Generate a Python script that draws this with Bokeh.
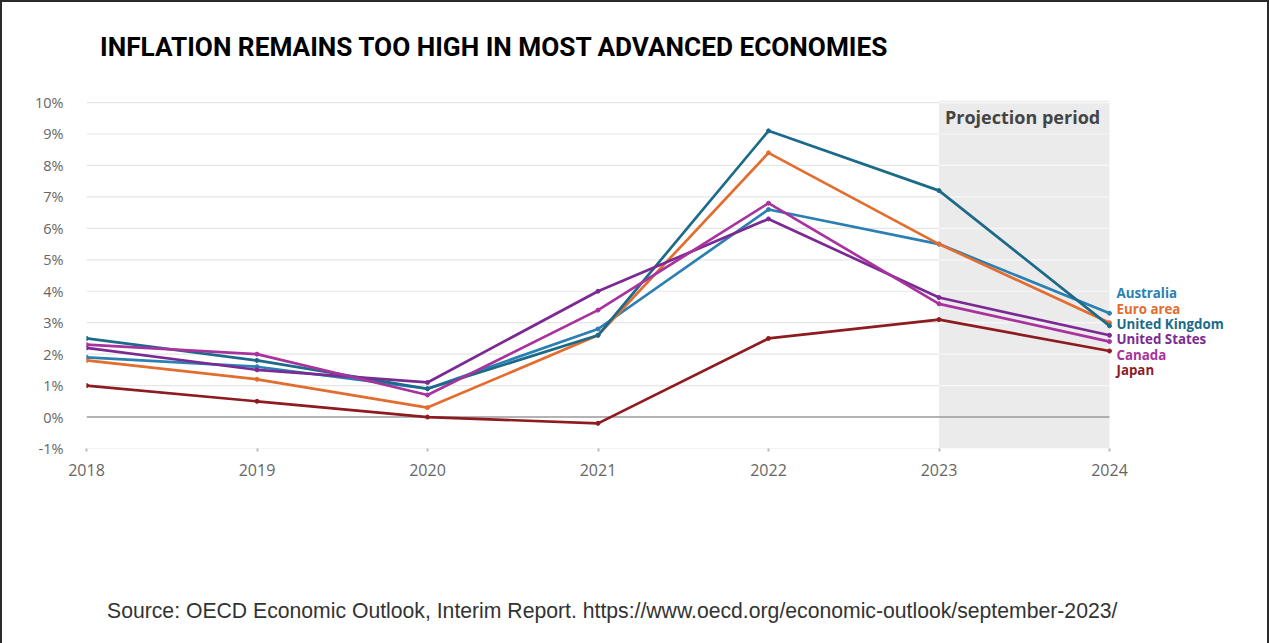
import numpy as np
from bokeh.plotting import figure
from bokeh.layouts import column
from bokeh.models import (FixedTicker, PrintfTickFormatter, BoxAnnotation, Label,
                          ColumnDataSource, Range1d, Div)
from bokeh.core.properties import value
from bokeh.embed import file_html
from bokeh.resources import INLINE

# ---------------- data ----------------
years = [2018, 2019, 2020, 2021, 2022, 2023, 2024]
australia = [1.9, 1.6, 0.9, 2.8, 6.6, 5.5, 3.3]
euro_area = [1.8, 1.2, 0.3, 2.6, 8.4, 5.5, 3.0]
united_kingdom = [2.5, 1.8, 0.9, 2.6, 9.1, 7.2, 2.9]
united_states = [2.2, 1.5, 1.1, 4.0, 6.3, 3.8, 2.6]
canada = [2.3, 2.0, 0.7, 3.4, 6.8, 3.6, 2.4]
japan = [1.0, 0.5, 0.0, -0.2, 2.5, 3.1, 2.1]

series_names = ["Australia", "Euro area", "United Kingdom", "United States", "Canada", "Japan"]
series_values = [australia, euro_area, united_kingdom, united_states, canada, japan]
series_colors = ["#2b80b3", "#e36c2f", "#1c6a89", "#7b2a93", "#a8329e", "#8e1b1f"]

y_ticks = [-1, 0, 1, 2, 3, 4, 5, 6, 7, 8, 9, 10]
projection_start, projection_end = 2023, 2024

title_text = "INFLATION REMAINS TOO HIGH IN MOST ADVANCED ECONOMIES"
source_text = "Source: OECD Economic Outlook, Interim Report. https://www.oecd.org/economic-outlook/september-2023/"

# ---------------- geometry ----------------
W, H = 1269, 643
BORDER = 2
inner_w = W - 2 * BORDER
title_h = 88
fig_top_pad, frame_h, fig_bottom_pad = 10, 348, 50
fig_h = fig_top_pad + frame_h + fig_bottom_pad
source_h = H - BORDER - title_h - fig_h
frame_left, frame_right = 86, 1250          # absolute page x
x0 = 2018
ppx = (1109 - 86) / 6
x1 = 2024 + (frame_right - 1109) / ppx
y0, y1 = -1, 10.065
ppy = frame_h / (y1 - y0)

title_div = Div(text=f'<div style="padding-left:{100 - BORDER}px;padding-top:{47 - BORDER - 15}px;'
                     f'font-family:Roboto,sans-serif;font-weight:700;font-size:26.2px;'
                     f'line-height:30px;color:#000;white-space:nowrap;">{title_text}</div>',
                width=inner_w, height=title_h, margin=0)

p = figure(width=inner_w, height=fig_h, output_backend="svg", toolbar_location=None,
           x_range=Range1d(x0, x1), y_range=Range1d(y0, y1),
           min_border_left=frame_left - BORDER, min_border_top=fig_top_pad,
           min_border_right=W - BORDER - frame_right, min_border_bottom=fig_bottom_pad,
           background_fill_color="white", border_fill_color="white", margin=0)
p.outline_line_color = None
p.xgrid.grid_line_color = None
p.ygrid.grid_line_color = None

# projection band
p.add_layout(BoxAnnotation(left=projection_start, right=projection_end,
                           fill_color="#ebebeb", fill_alpha=1.0, line_color=None,
                           level="underlay"))

# gridlines (drawn only over the data span)
grid_y = [t for t in y_ticks if t != 0]
p.segment(x0=[years[0]] * len(grid_y), x1=[projection_start] * len(grid_y),
          y0=grid_y, y1=grid_y, line_color="#e6e6e6", line_width=1.2)
p.segment(x0=[projection_start] * len(grid_y), x1=[projection_end] * len(grid_y),
          y0=grid_y, y1=grid_y, line_color="#f8f8f8", line_width=1.2)
p.segment(x0=[years[0]], x1=[years[-1]], y0=[0], y1=[0], line_color="#9a9a9a", line_width=1.5)

# series
for name, vals, col in zip(series_names, series_values, series_colors):
    p.line(years, vals, line_color=col, line_width=2.7)
    p.scatter(years, vals, size=4, fill_color=col, line_color=col)

# end labels, spread evenly around the mean of the final values
finals = [v[-1] for v in series_values]
order = np.argsort(finals)[::-1]
mean_final = float(np.mean(finals))
spacing = 15.4 / ppy
lab_y = [mean_final + ((len(order) - 1) / 2 - i) * spacing for i in range(len(order))]
lab_src = ColumnDataSource(dict(
    x=[years[-1]] * len(order),
    y=lab_y,
    text=[series_names[k] for k in order],
    color=[series_colors[k] for k in order],
))
p.text(x="x", y="y", text="text", text_color="color", source=lab_src,
       x_offset=7, text_baseline="middle", text_align="left",
       text_font=value("Open Sans"), text_font_size="13.3px", text_font_style="bold")

# projection label
p.add_layout(Label(x=projection_start, y=y1 - (116 - 100) / ppy, x_offset=6,
                   text="Projection period", text_baseline="middle",
                   text_font="Open Sans", text_font_size="18px",
                   text_font_style="bold", text_color="#444444"))

# axes
p.xaxis.ticker = FixedTicker(ticks=years)
p.xaxis.axis_line_color = None
p.xaxis.major_tick_in = 0
p.xaxis.major_tick_out = 3
p.xaxis.major_tick_line_color = "#bbbbbb"
p.xaxis.major_tick_line_width = 2
p.xaxis.minor_tick_line_color = None
p.xaxis.major_label_standoff = 12
p.xaxis.major_label_text_font = "Open Sans"
p.xaxis.major_label_text_font_size = "16px"
p.xaxis.major_label_text_color = "#666666"

p.yaxis.ticker = FixedTicker(ticks=y_ticks)
p.yaxis.formatter = PrintfTickFormatter(format="%d%%")
p.yaxis.axis_line_color = None
p.yaxis.major_tick_line_color = None
p.yaxis.minor_tick_line_color = None
p.yaxis.major_label_standoff = 17
p.yaxis.major_label_text_font = "Open Sans"
p.yaxis.major_label_text_font_size = "14.5px"
p.yaxis.major_label_text_color = "#666666"

source_div = Div(text=f'<div style="padding-left:{107 - BORDER}px;padding-top:{611 - (BORDER + title_h + fig_h) - 12}px;'
                      f"font-family:'Liberation Sans',Arial,sans-serif;"
                      f'font-size:21.2px;line-height:24px;color:#333;white-space:nowrap;">{source_text}</div>',
                 width=inner_w, height=source_h, margin=0)

layout = column(title_div, p, source_div, spacing=0)
layout.styles = {"border-left": f"{BORDER}px solid #2a2a2a", "border-top": f"{BORDER}px solid #2a2a2a",
                 "border-right": f"{BORDER}px solid #2a2a2a", "box-sizing": "border-box"}

open("out.html", "w").write(file_html(layout, INLINE))
